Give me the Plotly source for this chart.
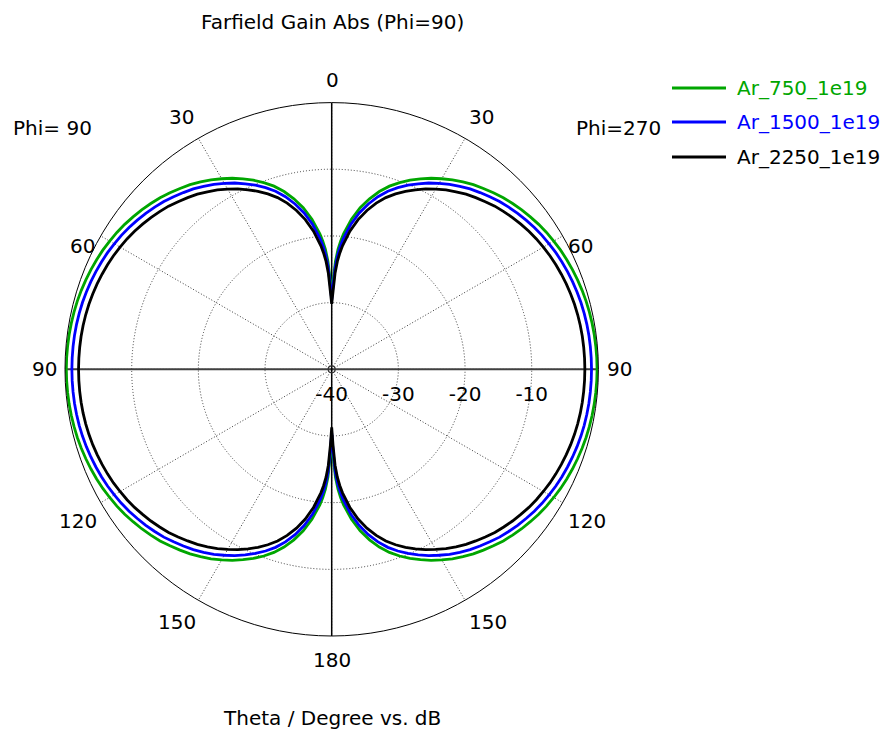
import plotly.graph_objects as go

# ---------------- data ----------------
THETA = [0, 1, 2, 3, 4, 5, 7.5, 10, 12.5, 15, 17.5, 20, 22.5, 25, 27.5, 30, 32.5, 35, 37.5, 40,
         42.5, 45, 47.5, 50, 52.5, 55, 57.5, 60, 62.5, 65, 67.5, 70, 72.5, 75, 77.5, 80, 82.5, 85, 87.5, 90,
         92.5, 95, 97.5, 100, 102.5, 105, 107.5, 110, 112.5, 115, 117.5, 120, 122.5, 125, 127.5, 130,
         132.5, 135, 137.5, 140, 142.5, 145, 147.5, 150, 152.5, 155, 157.5, 160, 162.5, 165, 167.5, 170,
         172.5, 175, 176, 177, 178, 179, 180]

AR_750 = [-29.0, -26.5, -23.8, -22.0, -20.7, -19.6, -17.3, -15.4, -13.8, -12.4, -11.2, -10.2, -9.3, -8.5,
          -7.7, -7.0, -6.3, -5.7, -5.1, -4.6, -4.1, -3.6, -3.2, -2.8, -2.45, -2.1, -1.8, -1.55, -1.3, -1.1,
          -0.92, -0.76, -0.62, -0.5, -0.41, -0.34, -0.28, -0.24, -0.21, -0.2,
          -0.21, -0.24, -0.28, -0.34, -0.41, -0.5, -0.62, -0.76, -0.92, -1.1, -1.3, -1.55, -1.8, -2.1,
          -2.45, -2.8, -3.2, -3.6, -4.1, -4.6, -5.1, -5.7, -6.3, -7.0, -7.7, -8.5, -9.3, -10.2, -11.2,
          -12.4, -13.8, -15.4, -17.3, -19.6, -20.7, -22.0, -23.8, -26.8, -29.8]
AR_1500 = [-29.6, -27.3, -24.6, -22.8, -21.5, -20.4, -18.1, -16.2, -14.6, -13.2, -12.0, -11.0, -10.1, -9.3,
           -8.5, -7.8, -7.1, -6.5, -5.9, -5.4, -4.9, -4.4, -4.0, -3.6, -3.25, -2.9, -2.6, -2.35, -2.1, -1.9,
           -1.72, -1.56, -1.42, -1.3, -1.21, -1.14, -1.09, -1.06, -1.04, -1.03,
           -1.04, -1.06, -1.09, -1.14, -1.21, -1.3, -1.42, -1.56, -1.72, -1.9, -2.1, -2.35, -2.6, -2.9,
           -3.25, -3.6, -4.0, -4.4, -4.9, -5.4, -5.9, -6.5, -7.1, -7.8, -8.5, -9.3, -10.1, -11.0, -12.0,
           -13.2, -14.6, -16.2, -18.1, -20.4, -21.5, -22.8, -24.6, -27.6, -30.4]
AR_2250 = [-30.2, -28.3, -25.6, -23.8, -22.5, -21.4, -19.1, -17.2, -15.6, -14.2, -13.0, -12.0, -11.1, -10.3,
           -9.5, -8.8, -8.1, -7.5, -6.9, -6.4, -5.9, -5.4, -5.0, -4.6, -4.25, -3.9, -3.6, -3.35, -3.1, -2.9,
           -2.72, -2.56, -2.42, -2.3, -2.21, -2.14, -2.09, -2.06, -2.04, -2.03,
           -2.04, -2.06, -2.09, -2.14, -2.21, -2.3, -2.42, -2.56, -2.72, -2.9, -3.1, -3.35, -3.6, -3.9,
           -4.25, -4.6, -5.0, -5.4, -5.9, -6.4, -6.9, -7.5, -8.1, -8.8, -9.5, -10.3, -11.1, -12.0, -13.0,
           -14.2, -15.6, -17.2, -19.1, -21.4, -22.5, -23.8, -25.6, -28.6, -31.3]

SERIES = ["Ar_750_1e19", "Ar_1500_1e19", "Ar_2250_1e19"]
COLORS = ["#00a600", "#0000ff", "#000000"]
ANG_TICKS = [0, 30, 60, 90, 120, 150, 180, 210, 240, 270, 300, 330]
ANG_TEXT = ["0", "30", "60", "90", "120", "150", "180", "150", "120", "90", "60", "30"]
R_TICKS = [-40, -30, -20, -10]
R_TEXT = ["-40", "-30", "-20", "-10"]
R_RANGE = [-40, 0]

W, H = 886, 733
FONT = "DejaVu Sans"
FS = 20
GRID = "#3a3a3a"
DOTS = "1px,2px"

fig = go.Figure()

# solid crosshair axes through the centre
fig.add_trace(go.Scatterpolar(r=[R_RANGE[1], R_RANGE[0], R_RANGE[1]], theta=[90, 90, 270], mode="lines",
                              line=dict(color="#404040", width=2), showlegend=False, hoverinfo="skip"))
fig.add_trace(go.Scatterpolar(r=[R_RANGE[1], R_RANGE[0], R_RANGE[1]], theta=[0, 0, 180], mode="lines",
                              line=dict(color="#000000", width=1.5), showlegend=False, hoverinfo="skip"))
fig.add_trace(go.Scatterpolar(r=[R_RANGE[0]], theta=[0], mode="markers",
                              marker=dict(symbol="circle-open", size=7, color="#333",
                                          line=dict(width=1.2, color="#333")),
                              showlegend=False, hoverinfo="skip"))

# curves: Phi=270 half on the right (theta), Phi=90 half on the left (360 - theta)
for name, vals, col in zip(SERIES, [AR_750, AR_1500, AR_2250], COLORS):
    th = list(THETA) + [360 - t for t in reversed(THETA)]
    rr = list(vals) + list(reversed(vals))
    fig.add_trace(go.Scatterpolar(r=rr, theta=th, mode="lines", name=name,
                                  line=dict(color=col, width=2.8), showlegend=False))

# manual legend (line + coloured label)
legend_rows = [88, 122, 157]
for name, col, yy in zip(SERIES, COLORS, legend_rows):
    fig.add_shape(type="line", xref="paper", yref="paper",
                  x0=672 / W, x1=726 / W, y0=1 - yy / H, y1=1 - yy / H,
                  line=dict(color=col, width=3))
    fig.add_annotation(x=735 / W, y=1 - yy / H, xref="paper", yref="paper", text=name,
                       showarrow=False, xanchor="left", yanchor="middle",
                       font=dict(family=FONT, size=FS, color=col))

# angular tick labels, placed where the reference puts them
ANG_LABEL_POS = [(332, 80), (481, 117), (580, 246), (619, 369), (587, 521), (488, 622),
                 (332, 660), (177, 622), (78, 521), (44, 369), (82, 246), (181, 117)]
for txt, (px, py) in zip(ANG_TEXT, ANG_LABEL_POS):
    fig.add_annotation(x=px / W, y=1 - py / H, xref="paper", yref="paper", text=txt,
                       showarrow=False, xanchor="center", yanchor="middle",
                       font=dict(family=FONT, size=FS, color="black"))

cx, cy, R = 331.7, 369.3, 266.7
fig.update_layout(
    width=W, height=H,
    margin=dict(l=0, r=0, t=0, b=0),
    paper_bgcolor="white",
    font=dict(family=FONT, size=FS, color="black"),
    showlegend=False,
    polar=dict(
        domain=dict(x=[(cx - R) / W, (cx + R) / W], y=[(H - cy - R) / H, (H - cy + R) / H]),
        bgcolor="white",
        angularaxis=dict(rotation=90, direction="clockwise", tickmode="array",
                         tickvals=ANG_TICKS, ticktext=ANG_TEXT, showticklabels=False,
                         showline=True, linecolor="black", linewidth=1, ticks="",
                         showgrid=True, gridcolor=GRID, gridwidth=1, griddash=DOTS),
        radialaxis=dict(range=R_RANGE, tickmode="array", tickvals=R_TICKS, ticktext=R_TEXT,
                        angle=0, side="clockwise", showline=False, ticks="outside", ticklen=7,
                        tickcolor="rgba(0,0,0,0)",
                        showgrid=True, gridcolor=GRID, gridwidth=1, griddash=DOTS,
                        tickfont=dict(family=FONT, size=FS, color="black")),
    ),
    annotations=list(fig.layout.annotations) + [
        dict(x=332 / W, y=1 - 22 / H, xref="paper", yref="paper", text="Farfield Gain Abs (Phi=90)",
             showarrow=False, xanchor="center", yanchor="middle", font=dict(family=FONT, size=FS)),
        dict(x=332 / W, y=1 - 718 / H, xref="paper", yref="paper", text="Theta / Degree vs. dB",
             showarrow=False, xanchor="center", yanchor="middle", font=dict(family=FONT, size=FS)),
        dict(x=11 / W, y=1 - 128 / H, xref="paper", yref="paper", text="Phi= 90",
             showarrow=False, xanchor="left", yanchor="middle", font=dict(family=FONT, size=FS)),
        dict(x=574 / W, y=1 - 128 / H, xref="paper", yref="paper", text="Phi=270",
             showarrow=False, xanchor="left", yanchor="middle", font=dict(family=FONT, size=FS)),
    ],
)

fig.write_html("out.html")
